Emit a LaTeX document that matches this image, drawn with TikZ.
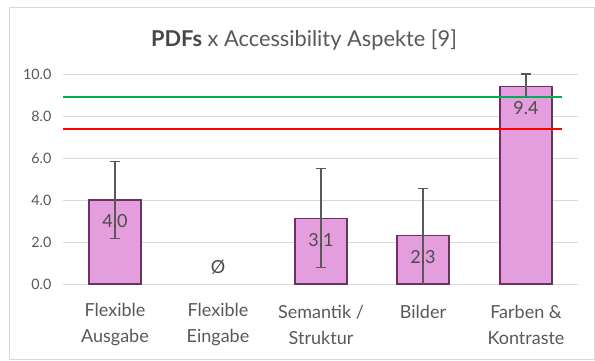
\documentclass[tikz,border=0pt]{standalone}
\usepackage{fontspec}
\setmainfont{Lato}
\usepackage{xcolor}
\definecolor{barcol}{RGB}{228,158,221}
\definecolor{bardraw}{RGB}{104,50,100}
\definecolor{txtcol}{RGB}{89,89,89}
\definecolor{gridcol}{RGB}{217,217,217}
\definecolor{goodcol}{RGB}{0,176,80}
\definecolor{badcol}{RGB}{255,0,0}

\tikzset{
  bar/.style={fill=barcol,draw=bardraw,line width=1.1pt},
  errbar/.style={draw=txtcol,line width=1.1pt},
  ticklabel/.style={anchor=east,text=txtcol,font=\fontsize{14.3}{14.3}\selectfont,inner sep=0pt},
  catlabel/.style={text=txtcol,align=center,font=\fontsize{18}{26}\selectfont,inner sep=0pt},
  vallabel/.style={text=txtcol!85!black,font=\fontsize{18}{18}\selectfont,inner sep=0pt}
}

\begin{document}
\begin{tikzpicture}[x=1pt,y=1pt]
\useasboundingbox (0,0) rectangle (595,361);
\fill[white] (0,0) rectangle (595,361);
\draw[gridcol,line width=0.8pt] (9,1.5) rectangle (594,354);
\node[text=txtcol,font=\fontsize{21.8}{21.8}\selectfont] (title) at (304,321)
  {\textbf{\color{txtcol!80!black}PDFs} x Accessibility Aspekte [9]};

\begin{scope}[shift={(0,77)},y=21pt]
% grid and axis values
\foreach \v/\t in {0/0.0,2/2.0,4/4.0,6/6.0,8/8.0,10/10.0} {
  \draw[gridcol,line width=0.9pt] (63,\v) -- (578,\v);
  \node[ticklabel] (tick\v) at (51.5,\v) {\t};
}
% bars with error bars
\foreach \cx/\val/\lo/\hi/\nm in {115/4.0/2.15/5.85/ausgabe,321/3.1/0.77/5.5/struktur,
    423/2.3/0/4.55/bilder,526/9.4/8.87/10/kontraste} {
  \draw[bar] (\cx-26,0) rectangle (\cx+26,\val);
  \coordinate (lo\nm) at (\cx,\lo);
  \coordinate (hi\nm) at (\cx,\hi);
  \draw[errbar] (lo\nm) -- (hi\nm);
  \draw[errbar] ([xshift=-5pt]hi\nm) -- ([xshift=5pt]hi\nm);
  \node[vallabel] (val\nm) at (\cx,\val-1) {\val};
}
\draw[errbar] ([xshift=-5pt]loausgabe) -- ([xshift=5pt]loausgabe);
\draw[errbar] ([xshift=-5pt]lostruktur) -- ([xshift=5pt]lostruktur);
\draw[errbar] ([xshift=-5pt]lokontraste) -- ([xshift=5pt]lokontraste);
\node[vallabel] (valeingabe) at (218,0.8) {Ø};

% target lines
\coordinate (goodl) at (63,8.92);
\coordinate (goodr) at (562,8.92);
\coordinate (badl) at (63,7.38);
\coordinate (badr) at (562,7.38);
\draw[goodcol,line width=2.2pt] (goodl) -- (goodr);
\draw[badcol,line width=2.2pt] (badl) -- (badr);
\end{scope}

% category names
\node[catlabel] (ausgabe) at (115,36) {Flexible\\Ausgabe};
\node[catlabel] (eingabe) at (218,36) {Flexible\\Eingabe};
\node[catlabel] (struktur) at (321,36) {Semantik /\\Struktur};
\node[catlabel] (bilder) at (423,49) {Bilder};
\node[catlabel] (kontraste) at (526,36) {Farben \&\\Kontraste};
\end{tikzpicture}
\end{document}
